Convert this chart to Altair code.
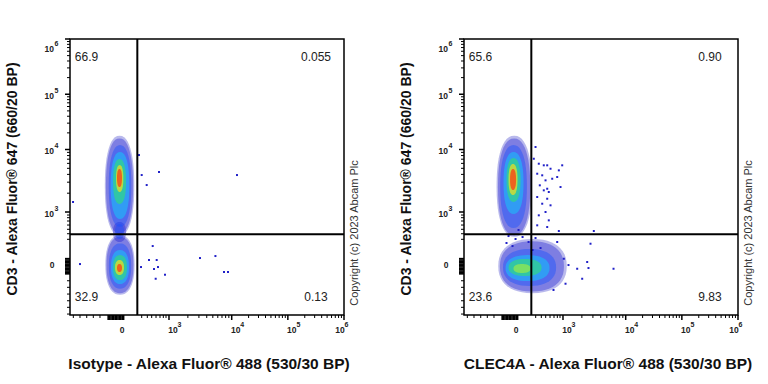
import math
import altair as alt
import pandas as pd

FONT = "Liberation Sans"
W, H = 274, 276

# ---- display scale (logicle display units, 10^k sits at k) ----
X_DOMAIN = [1.12, 6.0]
Y_DOMAIN = [1.005, 6.0]
GATE_X = 2.319
GATE_Y = 2.465

# tick label anchors
X_ZERO_POS = 2.05
Y_ZERO_POS = 1.91
X_DECADE_POS = [2.883, 4.0, 5.0]
Y_DECADE_POS = [2.869, 4.0, 5.0]
DECADE_EXP = ["3", "4", "5"]
TOP_POS = 6.0
TOP_EXP = "6"

# minor ticks (low / linear region)
X_LOW_MINOR = [1.179, 1.298, 1.418, 1.535, 1.654, 2.397, 2.497, 2.575, 2.652, 2.723, 2.782, 2.830]
Y_LOW_MINOR = [1.022, 1.144, 1.263, 1.384, 1.506, 1.625, 2.375, 2.476, 2.556, 2.633, 2.706, 2.766, 2.814]
X_ZERO_BAND = [1.80, 1.825, 1.85, 1.875, 1.90, 1.925, 1.95, 1.975, 2.00, 2.025, 2.05, 2.075]
Y_ZERO_BAND = [1.75, 1.775, 1.80, 1.825, 1.85, 1.875, 1.90, 1.925, 1.95, 1.975, 2.00, 2.025]

Y_TITLE = "CD3 - Alexa Fluor® 647 (660/20 BP)"
X_TITLES = ["Isotype - Alexa Fluor® 488 (530/30 BP)", "CLEC4A - Alexa Fluor® 488 (530/30 BP)"]
QUAD_LABELS = [["66.9", "0.055", "32.9", "0.13"], ["65.6", "0.90", "23.6", "9.83"]]
COPYRIGHT = "Copyright (c) 2023 Abcam Plc"

# density levels: 0 sparse halo ... 7 densest core
LEVEL_COLORS = ["#1818c0", "#1a1ad0", "#1450ff", "#10d0fa", "#30e868", "#a8f03c", "#f8e018", "#ff3c12"]
LEVEL_OPACITY = [0.3, 0.75, 1, 1, 1, 1, 1, 1]
DOT_COLOR = "#2020c8"

# ---- left panel (Isotype) density contours ----
L_LEVEL = [0, 1, 2, 3, 4, 6, 7, 1, 2, 0, 1, 2, 3, 4, 6, 7]
L_X0 = [1.740, 1.760, 1.810, 1.845, 1.886, 1.939, 1.957, 1.886, 1.922, 1.750, 1.770, 1.812, 1.850, 1.886, 1.922, 1.957]
L_X1 = [2.265, 2.244, 2.212, 2.177, 2.118, 2.070, 2.046, 2.118, 2.082, 2.270, 2.250, 2.210, 2.171, 2.135, 2.082, 2.046]
L_Y0 = [2.440, 2.480, 2.600, 2.742, 3.014, 3.231, 3.321, 2.326, 2.380, 1.370, 1.400, 1.480, 1.566, 1.638, 1.729, 1.783]
L_Y1 = [4.250, 4.200, 4.080, 3.955, 3.828, 3.719, 3.647, 2.688, 2.650, 2.450, 2.420, 2.300, 2.181, 2.090, 2.000, 1.928]
L_DOT_X = [2.349, 2.397, 2.486, 2.705, 4.094, 2.593, 2.527, 2.664, 2.687, 2.616, 2.812, 2.646,
           2.385, 1.174, 1.298, 3.435, 3.710, 3.863, 3.934]
L_DOT_Y = [3.900, 3.538, 3.357, 3.593, 3.538, 2.253, 2.000, 2.000, 1.873, 1.837, 1.734, 1.661,
           1.873, 3.050, 1.927, 2.036, 2.072, 1.783, 1.783]

# ---- right panel (CLEC4A) density contours ----
R_LEVEL = [0, 1, 2, 3, 4, 6, 7, 0, 1, 2, 3, 4, 5]
R_X0 = [1.700, 1.725, 1.765, 1.824, 1.877, 1.913, 1.940, 1.730, 1.760, 1.815, 1.860, 1.913, 2.002]
R_X1 = [2.330, 2.300, 2.240, 2.180, 2.127, 2.073, 2.047, 2.950, 2.900, 2.760, 2.643, 2.501, 2.305]
R_Y0 = [2.420, 2.450, 2.580, 2.833, 3.050, 3.176, 3.267, 1.400, 1.430, 1.530, 1.620, 1.711, 1.765]
R_Y1 = [4.250, 4.200, 4.080, 3.955, 3.846, 3.738, 3.647, 2.380, 2.340, 2.200, 2.090, 2.018, 1.928]
R_DOT_X = [2.394, 2.363, 2.452, 2.541, 2.602, 2.869, 2.661, 2.809, 2.424, 2.513, 2.572, 2.691,
           2.780, 2.470, 2.602, 2.541, 2.630, 2.839, 2.424, 2.602, 2.513, 2.661, 2.572, 2.452,
           2.630, 2.602, 2.809, 2.424, 3.432,
           2.898, 2.981, 3.136, 3.314, 3.337, 3.783, 3.225, 2.928, 3.373, 2.780, 2.714,
           1.913, 2.038, 2.163, 2.270, 1.984, 2.394, 2.483, 2.091, 1.877, 2.341]
R_DOT_Y = [4.045, 3.833, 3.743, 3.714, 3.714, 3.714, 3.652, 3.623, 3.562, 3.533, 3.442, 3.471,
           3.502, 3.352, 3.290, 3.261, 3.231, 3.321, 3.140, 3.109, 3.019, 2.990, 2.869, 2.809,
           2.718, 2.597, 2.525, 2.628, 2.525,
           2.023, 1.909, 1.842, 1.964, 1.855, 1.842, 1.661, 1.571, 2.295, 2.326, 1.457,
           2.434, 2.380, 2.416, 2.326, 2.253, 2.398, 2.217, 2.543, 2.308, 2.181]

PX_X = W / (X_DOMAIN[1] - X_DOMAIN[0])
PX_Y = H / (Y_DOMAIN[1] - Y_DOMAIN[0])
N_LEVELS = len(LEVEL_COLORS)


def decade_minors(starts, width3):
    out = []
    for k, start in enumerate(starts):
        span = width3 if k == 0 else 1.0
        for m in range(2, 10):
            out.append(start + math.log10(m) * span)
    return out


X_MINOR = X_LOW_MINOR + decade_minors([X_DECADE_POS[0], 4.0, 5.0], 4.0 - X_DECADE_POS[0])
Y_MINOR = Y_LOW_MINOR + decade_minors([Y_DECADE_POS[0], 4.0, 5.0], 4.0 - Y_DECADE_POS[0])
X_MAJOR = X_DECADE_POS + [TOP_POS]
Y_MAJOR = Y_DECADE_POS + [TOP_POS]

ONE = pd.DataFrame({"k": [0]})


def blob_path(a, b, n=2.3, k=48):
    """Superellipse outline in the symbol's unit box; returns path and symbol area."""
    m = max(a, b)
    pts = []
    for i in range(k):
        t = 2 * math.pi * i / k
        c, s = math.cos(t), math.sin(t)
        x = math.copysign(abs(c) ** (2 / n), c) * a / m
        y = math.copysign(abs(s) ** (2 / n), s) * b / m
        pts.append(f"{x:.4f},{y:.4f}")
    return "M" + " L".join(pts) + " Z", (2 * m) ** 2


def note(text, x, y, size=12, align="center", angle=0, weight="normal", color="#222"):
    m = dict(text=text, font=FONT, fontSize=size, align=align, baseline="middle",
             fontWeight=weight, color=color)
    if angle:
        m["angle"] = angle
    return alt.Chart(ONE).mark_text(**m).encode(x=alt.value(x), y=alt.value(y))


def panel(level, x0, x1, y0, y1, dot_x, dot_y, x_title, quad, title_x):
    xs = alt.Scale(domain=X_DOMAIN, nice=False, zero=False)
    ys = alt.Scale(domain=Y_DOMAIN, nice=False, zero=False)
    pop = pd.DataFrame({"level": level, "x0": x0, "x1": x1, "y0": y0, "y1": y1})
    pop = pop.sort_values("level", kind="stable").reset_index(drop=True)
    pop["cx"] = (pop.x0 + pop.x1) / 2
    pop["cy"] = (pop.y0 + pop.y1) / 2
    shapes = [blob_path((r.x1 - r.x0) / 2 * PX_X, (r.y1 - r.y0) / 2 * PX_Y) for r in pop.itertuples()]
    pop["path"] = [s[0] for s in shapes]
    pop["area"] = [s[1] for s in shapes]

    dens = alt.Chart(pop).mark_point(filled=True, strokeWidth=0).encode(
        x=alt.X("cx:Q", scale=xs, axis=None),
        y=alt.Y("cy:Q", scale=ys, axis=None),
        shape=alt.Shape("path:N", scale=None, legend=None),
        size=alt.Size("area:Q", scale=None, legend=None),
        color=alt.Color("level:O", scale=alt.Scale(domain=list(range(N_LEVELS)), range=LEVEL_COLORS), legend=None),
        opacity=alt.Opacity("level:O", scale=alt.Scale(domain=list(range(N_LEVELS)), range=LEVEL_OPACITY), legend=None),
    )
    dots = alt.Chart(pd.DataFrame({"x": dot_x, "y": dot_y})).mark_square(
        size=4, color=DOT_COLOR, opacity=1).encode(
        x=alt.X("x:Q", scale=xs, axis=None), y=alt.Y("y:Q", scale=ys, axis=None))

    gate_v = alt.Chart(pd.DataFrame({"g": [GATE_X]})).mark_rule(color="black", strokeWidth=2).encode(
        x=alt.X("g:Q", scale=xs, axis=None))
    gate_h = alt.Chart(pd.DataFrame({"g": [GATE_Y]})).mark_rule(color="black", strokeWidth=2).encode(
        y=alt.Y("g:Q", scale=ys, axis=None))

    def xticks(vals, length, sw=1.0):
        return alt.Chart(pd.DataFrame({"v": vals})).mark_rule(color="black", strokeWidth=sw).encode(
            x=alt.X("v:Q", scale=xs, axis=None), y=alt.value(H), y2=alt.value(H + length))

    def yticks(vals, length, sw=1.0):
        return alt.Chart(pd.DataFrame({"v": vals})).mark_rule(color="black", strokeWidth=sw).encode(
            y=alt.Y("v:Q", scale=ys, axis=None), x=alt.value(0), x2=alt.value(-length))

    ticks = [xticks(X_MAJOR, 5, 1.5), xticks(X_MINOR, 3), xticks(X_ZERO_BAND, 5, 1.6),
             yticks(Y_MAJOR, 5, 1.5), yticks(Y_MINOR, 3), yticks(Y_ZERO_BAND, 5, 1.6)]

    lab = dict(font=FONT, fontWeight="bold", color="#222", baseline="middle")
    dec_x = pd.DataFrame({"v": X_DECADE_POS, "e": DECADE_EXP})
    dec_y = pd.DataFrame({"v": Y_DECADE_POS, "e": DECADE_EXP})
    labels = [
        alt.Chart(pd.DataFrame({"v": [X_ZERO_POS]})).mark_text(text="0", fontSize=8.5, align="center", **lab).encode(
            x=alt.X("v:Q", scale=xs, axis=None), y=alt.value(H + 15)),
        alt.Chart(dec_x).mark_text(text="10", fontSize=8.5, align="center", dx=4, **lab).encode(
            x=alt.X("v:Q", scale=xs, axis=None), y=alt.value(H + 15)),
        alt.Chart(dec_x).mark_text(fontSize=7, align="center", dx=10.5, **lab).encode(
            x=alt.X("v:Q", scale=xs, axis=None), y=alt.value(H + 10), text="e:N"),
        alt.Chart(pd.DataFrame({"v": [TOP_POS]})).mark_text(text="10", fontSize=8.5, align="center", dx=-4, **lab).encode(
            x=alt.X("v:Q", scale=xs, axis=None), y=alt.value(H + 15)),
        alt.Chart(pd.DataFrame({"v": [TOP_POS]})).mark_text(text=TOP_EXP, fontSize=7, align="center", dx=2.5, **lab).encode(
            x=alt.X("v:Q", scale=xs, axis=None), y=alt.value(H + 10)),
        alt.Chart(pd.DataFrame({"v": [Y_ZERO_POS]})).mark_text(text="0", fontSize=8.5, align="center", **lab).encode(
            y=alt.Y("v:Q", scale=ys, axis=None), x=alt.value(-18)),
        alt.Chart(dec_y).mark_text(text="10", fontSize=8.5, align="right", dy=1.5, **lab).encode(
            y=alt.Y("v:Q", scale=ys, axis=None), x=alt.value(-16)),
        alt.Chart(dec_y).mark_text(fontSize=7, align="left", dy=-3.5, **lab).encode(
            y=alt.Y("v:Q", scale=ys, axis=None), x=alt.value(-15.5), text="e:N"),
        alt.Chart(pd.DataFrame({"v": [TOP_POS]})).mark_text(text="10", fontSize=8.5, align="right", dy=10, **lab).encode(
            y=alt.Y("v:Q", scale=ys, axis=None), x=alt.value(-16)),
        alt.Chart(pd.DataFrame({"v": [TOP_POS]})).mark_text(text=TOP_EXP, fontSize=7, align="left", dy=5, **lab).encode(
            y=alt.Y("v:Q", scale=ys, axis=None), x=alt.value(-15.5)),
    ]

    quads = [
        note(quad[0], 16.5, 18),
        note(quad[1], W - 28, 18),
        note(quad[2], 16.5, H - 18),
        note(quad[3], W - 28, H - 18),
    ]
    copy = note(COPYRIGHT, W + 11, 194, size=11, angle=270, color="#333")
    xt = note(x_title, title_x, H + 49, size=15.5, weight="bold", color="#111")
    yt = note(Y_TITLE, -57.5, 140, size=14, weight="bold", angle=270, color="#111")

    return alt.layer(dens, dots, gate_v, gate_h, *ticks, *labels, *quads, copy, xt, yt).properties(
        width=W, height=H)


left = panel(L_LEVEL, L_X0, L_X1, L_Y0, L_Y1, L_DOT_X, L_DOT_Y, X_TITLES[0], QUAD_LABELS[0], 139)
right = panel(R_LEVEL, R_X0, R_X1, R_Y0, R_Y1, R_DOT_X, R_DOT_Y, X_TITLES[1], QUAD_LABELS[1], 144)

chart = alt.hconcat(left, right, spacing=37).properties(
    padding={"left": 4, "top": 37, "right": 5, "bottom": 10},
    background="white",
).configure(font=FONT).configure_view(stroke="black", strokeWidth=1.5)

chart.save("out.html", embed_options={"renderer": "svg", "actions": False})
